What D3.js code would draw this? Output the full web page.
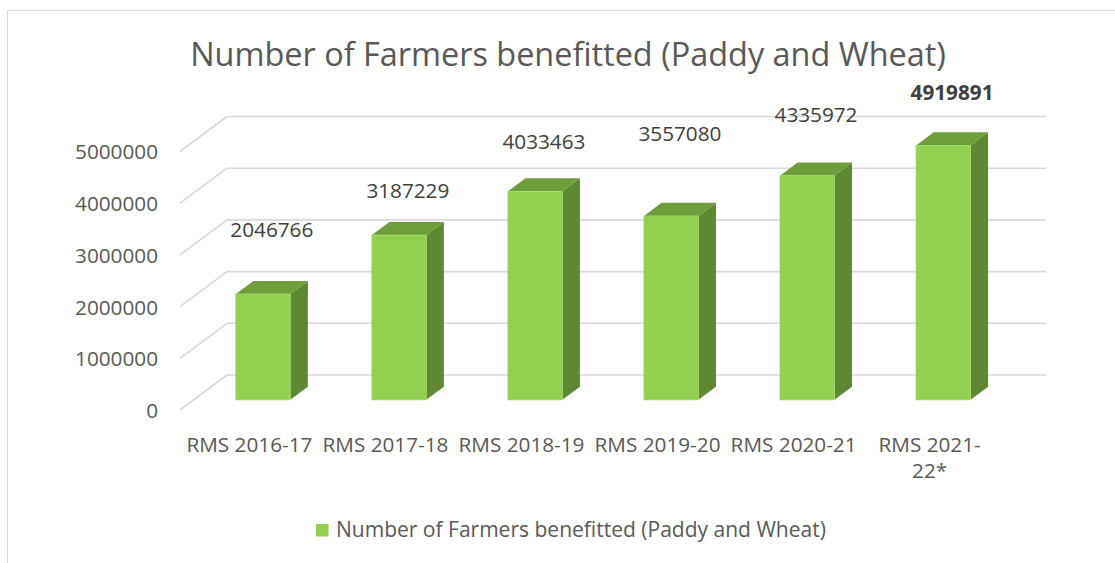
<!DOCTYPE html>
<html><head><meta charset="utf-8">
<script src="https://cdn.jsdelivr.net/npm/d3@7"></script>
<style>body{margin:0;background:#fff}svg{display:block}</style>
</head><body>
<svg id="c" width="1115" height="563"></svg>
<script>
// ---------- data ----------
const chartTitle = "Number of Farmers benefitted (Paddy and Wheat)";
const seriesName = "Number of Farmers benefitted (Paddy and Wheat)";
const categories = ["RMS 2016-17", "RMS 2017-18", "RMS 2018-19", "RMS 2019-20", "RMS 2020-21", "RMS 2021-22*"];
const values = [2046766, 3187229, 4033463, 3557080, 4335972, 4919891];
const yTicks = [0, 1000000, 2000000, 3000000, 4000000, 5000000];
const boldLabel = [false, false, false, false, false, true];

// ---------- layout / style ----------
const labelLift = [67, 47, 52, 85, 64, 56];   // data-label lift above bar value (px)
const FONT = '"Open Sans", sans-serif';
const TXT = "#595959", LBL = "#404040", GRID = "#d9d9d9";
const C_FRONT = "#92d050", C_TOP = "#6e9d3c", C_SIDE = "#5e8832";
const DX = 47, DY = 35;          // full depth vector of the 3D box
const fDepth = 0.29, bDepth = 0.665;

const svg = d3.select("#c");
svg.append("rect").attr("x", 7.5).attr("y", 10.5).attr("width", 1300).attr("height", 700)
  .attr("fill", "none").attr("stroke", GRID).attr("stroke-width", 1);

function measure(str, size, weight) {
  const t = svg.append("text").style("font-family", FONT).attr("font-size", size)
    .attr("font-weight", weight || 400).text(str);
  const w = t.node().getComputedTextLength(); t.remove(); return w;
}
function sizeFor(str, target, weight) { return 20 * target / measure(str, 20, weight); }

const fsNum = sizeFor("5000000", 83);
const fsCat = sizeFor("RMS 2016-17", 126);
const fsTitle = sizeFor(chartTitle, 756);
const fsLeg = sizeFor(seriesName, 490);

// ---------- scales ----------
const x = d3.scaleBand().domain(categories).range([180, 999]).paddingInner(0.6).paddingOuter(0.31);
const y = d3.scaleLinear().domain([0, 5000000]).range([410, 151.5]);
const bw = x.bandwidth();

// ---------- gridlines (back wall + left diagonal) ----------
const grid = svg.append("g").attr("stroke", GRID).attr("stroke-width", 1.6).attr("fill", "none");
yTicks.forEach(t => {
  grid.append("line").attr("x1", 180 + DX).attr("x2", 999 + DX)
    .attr("y1", y(t) - DY).attr("y2", y(t) - DY);
  grid.append("line").attr("x1", 180).attr("x2", 180 + DX)
    .attr("y1", y(t)).attr("y2", y(t) - DY);
});

// ---------- y axis ----------
const yAxis = svg.append("g").attr("transform", "translate(158,0)")
  .call(d3.axisLeft(y).tickValues(yTicks).tickSize(0).tickPadding(0).tickFormat(d3.format("d")));
yAxis.select(".domain").remove();
yAxis.selectAll("text").attr("fill", TXT).attr("font-size", fsNum).style("font-family", FONT)
  .attr("x", 0).attr("dy", "0.36em");

// ---------- bars ----------
const ddx = (bDepth - fDepth) * DX, ddy = (bDepth - fDepth) * DY;
const bars = svg.append("g");
categories.forEach((c, i) => {
  const xf = x(c) + fDepth * DX, xr = xf + bw;
  const yt = y(values[i]) - fDepth * DY, yb = y(0) - fDepth * DY;
  const g = bars.append("g");
  g.append("polygon").attr("fill", C_SIDE)
    .attr("points", [[xr, yt], [xr + ddx, yt - ddy], [xr + ddx, yb - ddy], [xr, yb]].join(" "));
  g.append("polygon").attr("fill", C_TOP)
    .attr("points", [[xf, yt], [xr, yt], [xr + ddx, yt - ddy], [xf + ddx, yt - ddy]].join(" "));
  g.append("rect").attr("x", xf).attr("y", yt).attr("width", bw).attr("height", yb - yt)
    .attr("fill", C_FRONT).attr("stroke", "#a3da6a").attr("stroke-width", 0.8);
});

// ---------- data labels ----------
svg.append("g").selectAll("text").data(values).join("text")
  .attr("x", (v, i) => x(categories[i]) + fDepth * DX + bw / 2 + ddx / 2)
  .attr("y", (v, i) => y(v) - labelLift[i])
  .attr("text-anchor", "middle").attr("fill", LBL).style("font-family", FONT)
  .attr("font-size", fsNum).attr("font-weight", (v, i) => boldLabel[i] ? 700 : 400)
  .text(v => d3.format("d")(v));

// ---------- x axis ----------
const xAxis = svg.append("g").attr("transform", "translate(0,452)")
  .call(d3.axisBottom(x).tickSize(0).tickPadding(0));
xAxis.select(".domain").remove();
const wrapW = x.step() * 0.97;
xAxis.selectAll("text").each(function (d) {
  const t = d3.select(this).attr("y", 0).attr("dy", 0).attr("fill", TXT)
    .style("font-family", FONT).attr("font-size", fsCat);
  const tokens = d.match(/[^\s-]+-?\s?|\s/g);
  const lines = []; let cur = "";
  tokens.forEach(tok => {
    const test = cur + tok;
    if (cur && measure(test.trim(), fsCat) > wrapW) { lines.push(cur.trim()); cur = tok; }
    else cur = test;
  });
  lines.push(cur.trim());
  t.text(null);
  lines.forEach((ln, k) => t.append("tspan").attr("x", 0).attr("dy", k ? 26 : 0).text(ln));
});

// ---------- title ----------
svg.append("text").attr("x", 568).attr("y", 66).attr("text-anchor", "middle")
  .attr("fill", TXT).style("font-family", FONT).attr("font-size", fsTitle).text(chartTitle);

// ---------- legend ----------
const leg = svg.append("g");
leg.append("rect").attr("x", 316).attr("y", 524).attr("width", 12.5).attr("height", 12.5).attr("fill", C_FRONT);
leg.append("text").attr("x", 336).attr("y", 537).attr("fill", TXT).style("font-family", FONT)
  .attr("font-size", fsLeg).text(seriesName);
</script>
</body></html>
